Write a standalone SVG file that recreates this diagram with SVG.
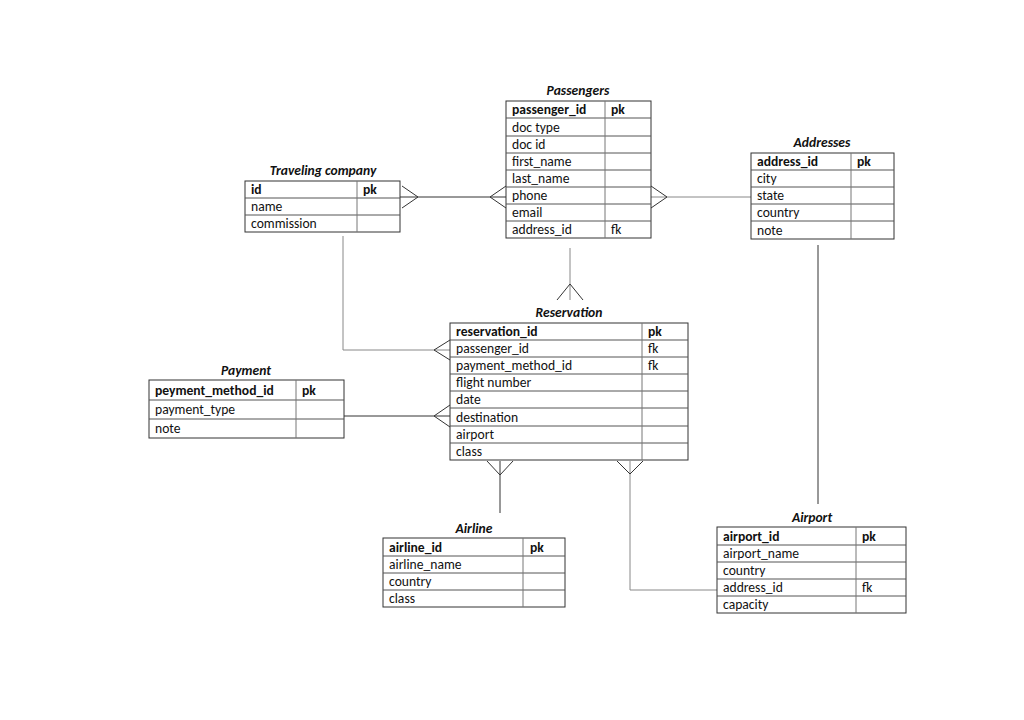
<svg xmlns="http://www.w3.org/2000/svg" width="1024" height="720" viewBox="0 0 1024 720">
<style>
text{font-family:Carlito,Lato,"Liberation Sans",sans-serif;font-size:13.6px;fill:#111}
.t{font-weight:bold;font-style:italic;text-anchor:middle}
.b{font-weight:bold}
.box{fill:#fff;stroke:#333;stroke-width:1}
.row{stroke:#555;stroke-width:1}
.col{stroke:#777;stroke-width:1}
.c{fill:none;stroke:#333;stroke-width:1}
.cl{fill:none;stroke:#888;stroke-width:1}
</style>
<rect width="1024" height="720" fill="#fff"/>
<g id="connectors">
<path class="c" d="M400,197H506"/>
<path class="c" d="M402,186L418,197L402,208"/>
<path class="c" d="M506,186L490,197L506,208"/>
<path class="cl" d="M651,197H751"/>
<path class="c" d="M651,186L667,197L651,208"/>
<path class="cl" d="M570,248V300"/>
<path class="c" d="M557,300L570,284L583,300"/>
<path class="cl" d="M343,236V350H450"/>
<path class="c" d="M450,340L434,350L450,360"/>
<path class="c" d="M344,416H450"/>
<path class="c" d="M450,405L434,416L450,427"/>
<path class="c" d="M500,461V513"/>
<path class="c" d="M487,461L500,475L513,461"/>
<path class="cl" d="M630,461V590H717"/>
<path class="c" d="M617,461L630,474L643,461"/>
<path class="c" d="M818,245V504"/>
</g>
<g id="passengers">
<text class="t" x="578" y="95">Passengers</text>
<rect class="box" x="506" y="101" width="145" height="137"/>
<path class="row" d="M506,118H651M506,136H651M506,153H651M506,170H651M506,187H651M506,204H651M506,221H651"/>
<path class="col" d="M605,101V238"/>
<text class="b" x="512" y="114">passenger_id</text><text class="b" x="611" y="114">pk</text>
<text x="512" y="132">doc type</text>
<text x="512" y="149">doc id</text>
<text x="512" y="166">first_name</text>
<text x="512" y="183">last_name</text>
<text x="512" y="200">phone</text>
<text x="512" y="217">email</text>
<text x="512" y="234">address_id</text><text x="611" y="234">fk</text>
</g>
<g id="traveling-company">
<text class="t" x="323" y="175">Traveling company</text>
<rect class="box" x="245" y="181" width="155" height="51"/>
<path class="row" d="M245,198H400M245,215H400"/>
<path class="col" d="M357,181V232"/>
<text class="b" x="251" y="194">id</text><text class="b" x="363" y="194">pk</text>
<text x="251" y="211">name</text>
<text x="251" y="228">commission</text>
</g>
<g id="addresses">
<text class="t" x="822" y="147">Addresses</text>
<rect class="box" x="751" y="153" width="143" height="86"/>
<path class="row" d="M751,170H894M751,187H894M751,204H894M751,221H894"/>
<path class="col" d="M851,153V239"/>
<text class="b" x="757" y="166">address_id</text><text class="b" x="857" y="166">pk</text>
<text x="757" y="183">city</text>
<text x="757" y="200">state</text>
<text x="757" y="217">country</text>
<text x="757" y="235">note</text>
</g>
<g id="reservation">
<text class="t" x="569" y="317">Reservation</text>
<rect class="box" x="450" y="323" width="238" height="137"/>
<path class="row" d="M450,340H688M450,357H688M450,374H688M450,391H688M450,408H688M450,426H688M450,443H688"/>
<path class="col" d="M642,323V460"/>
<text class="b" x="456" y="336">reservation_id</text><text class="b" x="648" y="336">pk</text>
<text x="456" y="353">passenger_id</text><text x="648" y="353">fk</text>
<text x="456" y="370">payment_method_id</text><text x="648" y="370">fk</text>
<text x="456" y="387">flight number</text>
<text x="456" y="404">date</text>
<text x="456" y="422">destination</text>
<text x="456" y="439">airport</text>
<text x="456" y="456">class</text>
</g>
<g id="payment">
<text class="t" x="246" y="375">Payment</text>
<rect class="box" x="149" y="380" width="195" height="58"/>
<path class="row" d="M149,400H344M149,419H344"/>
<path class="col" d="M296,380V438"/>
<text class="b" x="155" y="395">peyment_method_id</text><text class="b" x="302" y="395">pk</text>
<text x="155" y="414">payment_type</text>
<text x="155" y="433">note</text>
</g>
<g id="airline">
<text class="t" x="474" y="533">Airline</text>
<rect class="box" x="383" y="538" width="182" height="69"/>
<path class="row" d="M383,556H565M383,573H565M383,590H565"/>
<path class="col" d="M523,538V607"/>
<text class="b" x="389" y="552">airline_id</text><text class="b" x="530" y="552">pk</text>
<text x="389" y="569">airline_name</text>
<text x="389" y="586">country</text>
<text x="389" y="603">class</text>
</g>
<g id="airport">
<text class="t" x="812" y="522">Airport</text>
<rect class="box" x="717" y="527" width="189" height="86"/>
<path class="row" d="M717,545H906M717,562H906M717,579H906M717,596H906"/>
<path class="col" d="M856,527V613"/>
<text class="b" x="723" y="541">airport_id</text><text class="b" x="862" y="541">pk</text>
<text x="723" y="558">airport_name</text>
<text x="723" y="575">country</text>
<text x="723" y="592">address_id</text><text x="862" y="592">fk</text>
<text x="723" y="609">capacity</text>
</g>
</svg>
